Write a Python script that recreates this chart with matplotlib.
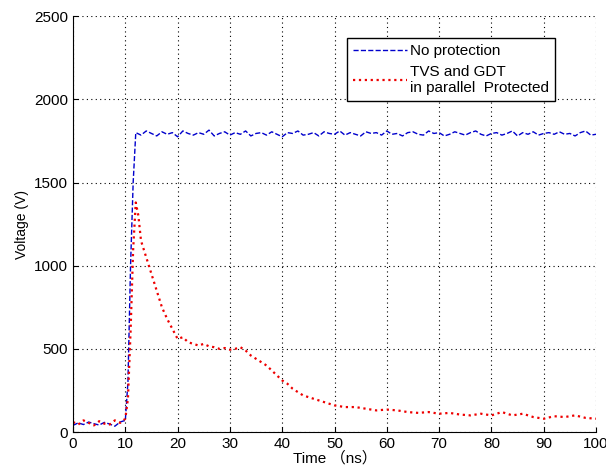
import matplotlib.pyplot as plt

# No protection (blue dashed)
t_blue = [0, 1, 2, 3, 4, 5, 6, 7, 8, 9, 10, 10.5, 11, 11.5, 12] + list(range(13, 101))
v_blue = [40, 55, 45, 60, 50, 42, 58, 48, 35, 60, 70, 300, 1000, 1500, 1800,
          1785, 1810, 1795, 1780, 1805, 1790, 1800, 1775, 1810, 1795,
          1785, 1800, 1790, 1815, 1780, 1795, 1805, 1785, 1800, 1790,
          1810, 1780, 1795, 1800, 1785, 1805, 1790, 1775, 1800, 1795,
          1810, 1785, 1790, 1800, 1780, 1805, 1795, 1790, 1810, 1785,
          1800, 1790, 1780, 1805, 1795, 1800, 1785, 1810, 1790, 1795,
          1780, 1800, 1805, 1790, 1785, 1810, 1795, 1800, 1780, 1790,
          1805, 1795, 1785, 1800, 1810, 1790, 1780, 1795, 1800, 1785,
          1795, 1810, 1780, 1800, 1790, 1805, 1785, 1795, 1800, 1790,
          1805, 1790, 1795, 1780, 1800, 1810, 1785, 1790]

# TVS and GDT in parallel (red dotted)
t_red = [0, 1, 2, 3, 4, 5, 6, 7, 8, 9, 10, 10.5, 11, 11.5, 12, 12.5, 13, 14, 15, 16,
         17, 18, 19, 20, 21, 22, 23, 24, 25, 26, 27, 28, 29, 30, 31, 32, 33, 34,
         35, 36, 37, 38, 39, 40, 41, 42, 43, 44, 45, 46, 47, 48, 49, 50, 52, 54,
         56, 58, 60, 62, 64, 66, 68, 70, 72, 74, 76, 78, 80, 82, 84, 86, 88, 90,
         92, 94, 96, 98, 100]
v_red = [60, 45, 70, 55, 40, 65, 50, 45, 70, 55, 80, 200, 600, 1100, 1380, 1300,
         1150, 1050, 950, 850, 750, 680, 620, 560, 570, 540, 530, 520, 530, 515,
         510, 500, 505, 495, 500, 510, 490, 460, 440, 420, 400, 370, 340, 310,
         290, 260, 240, 220, 210, 200, 190, 180, 170, 160, 150, 150, 140, 130,
         135, 130, 120, 115, 120, 110, 115, 105, 100, 110, 100, 120, 100, 110,
         90, 80, 95, 90, 100, 85, 80]

plt.rcParams['font.family'] = ['Liberation Sans', 'Noto Sans CJK SC']

fig = plt.figure(figsize=(6.06, 4.72), dpi=100)
ax = fig.add_axes([0.1205, 0.0847, 0.863, 0.881])

ax.plot(t_blue, v_blue, color='#0000cc', linestyle='--', linewidth=1, label='No protection')
ax.plot(t_red, v_red, color='#ee0000', linestyle=':', linewidth=1.6, label='TVS and GDT\nin parallel  Protected')

ax.set_xlim(0, 100)
ax.set_ylim(0, 2500)
ax.set_xticks(range(0, 101, 10))
ax.set_yticks(range(0, 2501, 500))
ax.grid(True, color='black', linestyle=(0, (1, 3)), linewidth=0.8)
ax.spines['top'].set_visible(False)
ax.spines['right'].set_visible(False)
ax.tick_params(direction='in', labelsize=11)

ax.set_xlabel('Time （ns）', fontsize=11, labelpad=0)
ax.set_ylabel('Voltage (V)', fontsize=10)

leg = ax.legend(loc='upper left', bbox_to_anchor=(0.51, 0.965), fontsize=11,
                fancybox=False, framealpha=1, edgecolor='black', handlelength=3.5,
                handletextpad=0.2, borderpad=0.4, labelspacing=0.4)
leg.get_frame().set_linewidth(1)

fig.savefig('out.png', dpi=100)
